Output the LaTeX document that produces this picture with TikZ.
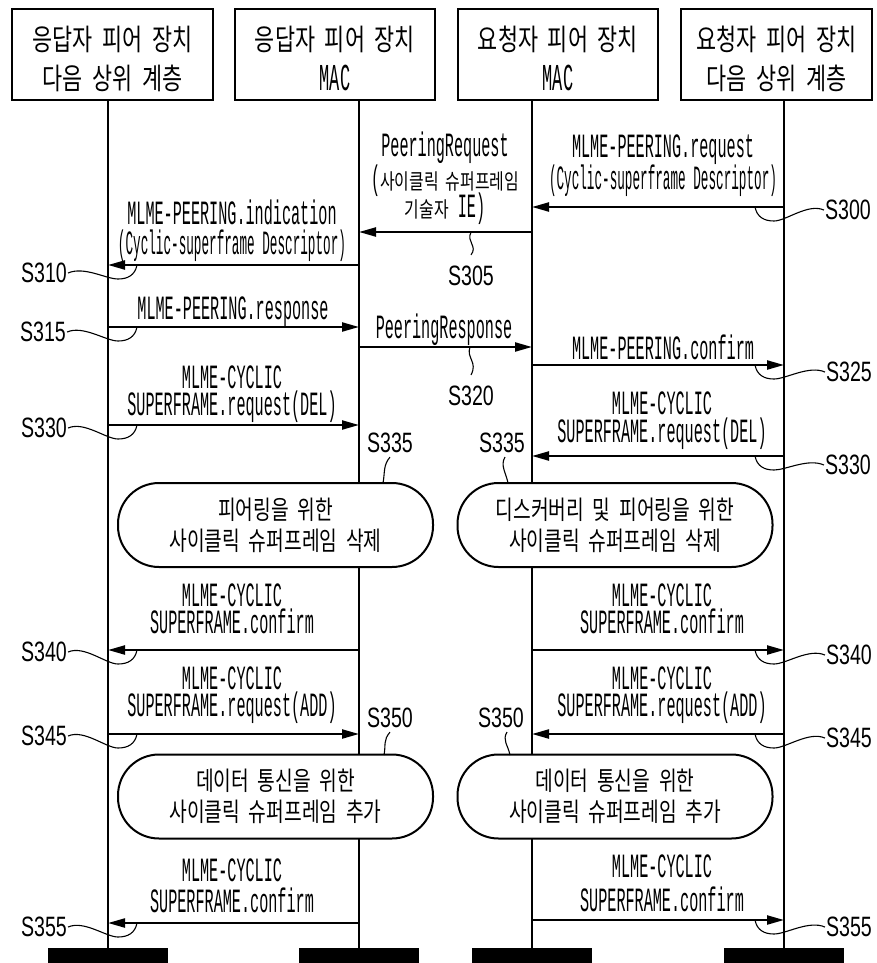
\documentclass[tikz,border=0pt]{standalone}
\usepackage{fontspec}
\usetikzlibrary{arrows.meta}
\newfontfamily\kr{Noto Sans CJK KR}[FakeStretch=0.74,WordSpace=2]
\newfontfamily\mono{Liberation Mono}[FakeStretch=0.446]
\newfontfamily\monon{Liberation Mono}[FakeStretch=0.3725]
\newfontfamily\slab{Liberation Sans}[FakeStretch=0.7]
\newcommand\sqmsg[3]{\draw[msg] (#1 |- 0,#3) -- (#2 |- 0,#3);}
\newcommand\leadL[2]{\draw[lead] (#1.east) .. controls +(16,-7) and +(-12,0) .. (118,#2+14) .. controls +(10,0) and +(-2,10) .. (137,#2);}
\newcommand\leadR[2]{\draw[lead] (755,#2) .. controls +(2,10) and +(-10,0) .. (774,#2+14) .. controls +(12,0) and +(-16,-7) .. (#1.west);}
\begin{document}
\begin{tikzpicture}[x=1pt,y=-1pt,
  hdr/.style={draw, line width=2.8pt, minimum height=91pt, inner sep=0pt},
  htxt/.style={font=\kr\fontsize{29.5}{32}\selectfont, inner sep=0pt},
  mac/.style={font=\mono\fontsize{38}{40}\selectfont, inner sep=0pt},
  life/.style={line width=1.8pt},
  msg/.style={line width=2.2pt, -{Triangle[length=17pt,width=9pt]}},
  lead/.style={line width=1.1pt},
  slab/.style={font=\slab\fontsize{28}{28}\selectfont, inner sep=1pt},
  mtxt/.style={font=\mono\fontsize{34}{36}\selectfont, inner sep=0pt, text height=19pt, text depth=0pt},
  mtxtn/.style={font=\monon\fontsize{34}{36}\selectfont, inner sep=0pt, text height=19pt, text depth=0pt},
  ktxt/.style={font=\mono\fontsize{34}{36}\selectfont, inner sep=0pt, text height=19pt, text depth=0pt},
  proc/.style={draw, fill=white, line width=2pt, rounded corners=41pt, minimum width=315pt, minimum height=84pt, inner sep=0pt, align=center, font=\kr\fontsize{26}{31}\selectfont},
  bar/.style={fill=black, inner sep=0pt, minimum width=120pt, minimum height=15pt}
]
\useasboundingbox (0,0) rectangle (876,963);

% header boxes
\node[hdr, minimum width=201pt] (h1) at (112.5,54.5) {};
\node[hdr, minimum width=200pt] (h2) at (335,54.5) {};
\node[hdr, minimum width=200pt] (h3) at (558,54.5) {};
\node[hdr, minimum width=191pt] (h4) at (776.5,54.5) {};
\node[htxt] (h1a) at (112.5,39) {응답자 피어 장치};
\node[htxt] (h1b) at (112.5,78) {다음 상위 계층};
\node[htxt] (h2a) at (335,39) {응답자 피어 장치};
\node[mac] (h2b) at (335,78) {MAC};
\node[htxt] (h3a) at (558,39) {요청자 피어 장치};
\node[mac] (h3b) at (558,78) {MAC};
\node[htxt] (h4a) at (776.5,39) {요청자 피어 장치};
\node[htxt] (h4b) at (776.5,78) {다음 상위 계층};

% lifelines
\coordinate (L1) at (108,100);
\coordinate (L2) at (359,100);
\coordinate (L3) at (532,100);
\coordinate (L4) at (784,100);
\node[bar] (b1) at (108,955.5) {};
\node[bar] (b2) at (359,955.5) {};
\node[bar] (b3) at (532,955.5) {};
\node[bar] (b4) at (784,955.5) {};
\draw[life] (L1) -- (b1.north);
\draw[life] (L2) -- (b2.north);
\draw[life] (L3) -- (b3.north);
\draw[life] (L4) -- (b4.north);

% process boxes
\node[proc] (p1) at (275.5,525) {피어링을 위한\\사이클릭 슈퍼프레임 삭제};
\node[proc] (p2) at (615,525) {디스커버리 및 피어링을 위한\\사이클릭 슈퍼프레임 삭제};
\node[proc] (p3) at (275.5,796.5) {데이터 통신을 위한\\사이클릭 슈퍼프레임 추가};
\node[proc] (p4) at (615,796.5) {데이터 통신을 위한\\사이클릭 슈퍼프레임 추가};

% messages
\sqmsg{L4}{L3}{207}
\sqmsg{L3}{L2}{232}
\sqmsg{L2}{L1}{265}
\sqmsg{L1}{L2}{327}
\sqmsg{L2}{L3}{347}
\sqmsg{L3}{L4}{365}
\sqmsg{L1}{L2}{425}
\sqmsg{L4}{L3}{456}
\sqmsg{L2}{L1}{650}
\sqmsg{L3}{L4}{650}
\sqmsg{L1}{L2}{734}
\sqmsg{L4}{L3}{734}
\sqmsg{L2}{L1}{923}
\sqmsg{L3}{L4}{920}

% message texts
\node[mtxt] (t300a) at (663,148) {MLME-PEERING.request};
\node[mtxtn] (t300b) at (663,180) {(Cyclic-superframe Descriptor)};
\node[mtxt] (t305a) at (445,147) {PeeringRequest};
\node[ktxt] (t305b) at (445,180) {({\kr\fontsize{21.5}{24}\selectfont 사이클릭 슈퍼프레임}};
\node[ktxt] (t305c) at (445,208) {{\kr\fontsize{21.5}{24}\selectfont 기술자} IE)};
\node[mtxt] (t310a) at (232,215) {MLME-PEERING.indication};
\node[mtxtn] (t310b) at (232,245) {(Cyclic-superframe Descriptor)};
\node[mtxt] (t315) at (233,310) {MLME-PEERING.response};
\node[mtxt] (t320) at (444,329) {PeeringResponse};
\node[mtxt] (t325) at (663,350) {MLME-PEERING.confirm};
\node[mtxt] (t330a) at (232,379) {MLME-CYCLIC};
\node[mtxt] (t330b) at (232,406) {SUPERFRAME.request(DEL)};
\node[mtxt] (t330c) at (662,405) {MLME-CYCLIC};
\node[mtxt] (t330d) at (662,433) {SUPERFRAME.request(DEL)};
\node[mtxt] (t340a) at (232,597) {MLME-CYCLIC};
\node[mtxt] (t340b) at (232,624) {SUPERFRAME.confirm};
\node[mtxt] (t340c) at (662,597) {MLME-CYCLIC};
\node[mtxt] (t340d) at (662,624) {SUPERFRAME.confirm};
\node[mtxt] (t345a) at (232,680) {MLME-CYCLIC};
\node[mtxt] (t345b) at (232,707) {SUPERFRAME.request(ADD)};
\node[mtxt] (t345c) at (662,680) {MLME-CYCLIC};
\node[mtxt] (t345d) at (662,707) {SUPERFRAME.request(ADD)};
\node[mtxt] (t355a) at (232,872) {MLME-CYCLIC};
\node[mtxt] (t355b) at (232,903) {SUPERFRAME.confirm};
\node[mtxt] (t355c) at (662,868) {MLME-CYCLIC};
\node[mtxt] (t355d) at (662,902) {SUPERFRAME.confirm};

% step labels
\node[slab] (s300) at (848,210) {S300};
\node[slab] (s305) at (471,276) {S305};
\node[slab] (s310) at (44,273) {S310};
\node[slab] (s315) at (43,332) {S315};
\node[slab] (s320) at (471,396) {S320};
\node[slab] (s325) at (849,372) {S325};
\node[slab] (s330a) at (44,428) {S330};
\node[slab] (s330b) at (848,465) {S330};
\node[slab] (s335a) at (390,443) {S335};
\node[slab] (s335b) at (502,443) {S335};
\node[slab] (s340a) at (44,652) {S340};
\node[slab] (s340b) at (849,655) {S340};
\node[slab] (s345a) at (44,736) {S345};
\node[slab] (s345b) at (849,738) {S345};
\node[slab] (s350a) at (390,718) {S350};
\node[slab] (s350b) at (501,718) {S350};
\node[slab] (s355a) at (44,927) {S355};
\node[slab] (s355b) at (849,927) {S355};

% leaders
\leadR{s300}{207}
\leadL{s310}{265}
\leadL{s315}{327}
\leadR{s325}{365}
\leadL{s330a}{425}
\leadR{s330b}{456}
\leadL{s340a}{650}
\leadR{s340b}{650}
\leadL{s345a}{734}
\leadR{s345b}{734}
\leadL{s355a}{923}
\leadR{s355b}{920}
\draw[lead] (471,232) .. controls (466,242) and (478,246) .. ([yshift=10pt]s305.north);
\draw[lead] (470,347) .. controls (466,358) and (478,362) .. ([yshift=10pt]s320.north);
\draw[lead] ([yshift=-3pt]s335a.south) .. controls +(-7,8) and +(2,-10) .. (383,483);
\draw[lead] ([xshift=3pt,yshift=-3pt]s335b.south) .. controls +(-5,8) and +(-2,-10) .. (508,483);
\draw[lead] ([yshift=-3pt]s350a.south) .. controls +(-7,8) and +(2,-10) .. (384,755);
\draw[lead] ([xshift=6pt,yshift=-3pt]s350b.south) .. controls +(-5,8) and +(-2,-10) .. (510,755);
\end{tikzpicture}
\end{document}
